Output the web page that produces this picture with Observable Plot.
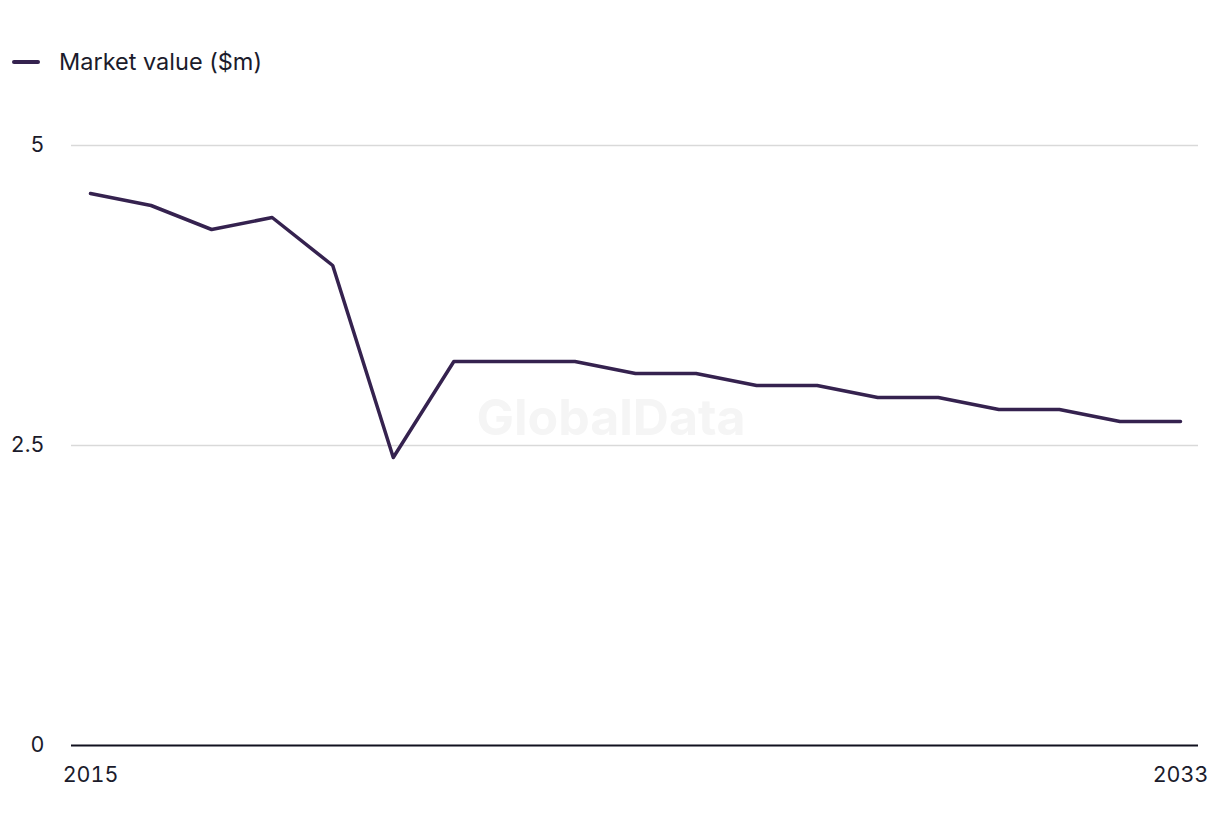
<!DOCTYPE html>
<html>
<head>
<meta charset="utf-8">
<script src="https://cdn.jsdelivr.net/npm/d3@7"></script>
<script src="https://cdn.jsdelivr.net/npm/@observablehq/plot@0.6"></script>
<style>
  html, body { margin: 0; padding: 0; background: #fff; }
  body { width: 1220px; height: 836px; position: relative; overflow: hidden; font-family: Inter, "Noto Sans", sans-serif; }
  #legend { position: absolute; left: 12px; top: 47px; display: flex; align-items: center; font-size: 23.5px; color: #1b1b2b; }
  #legend .swatch { width: 28px; height: 4px; border-radius: 2px; background: #35224f; margin-right: 19px; }
  #chart { position: absolute; left: 0; top: 0; }
</style>
</head>
<body>
<div id="legend"><span class="swatch"></span><span>Market value ($m)</span></div>
<div id="chart"></div>
<script>
const years = [2015,2016,2017,2018,2019,2020,2021,2022,2023,2024,2025,2026,2027,2028,2029,2030,2031,2032,2033];
const marketValue = [4.6,4.5,4.3,4.4,4.0,2.4,3.2,3.2,3.2,3.1,3.1,3.0,3.0,2.9,2.9,2.8,2.8,2.7,2.7];
const yTicks = [0, 2.5, 5];
const xTicks = [2015, 2033];
const seriesName = "Market value ($m)";

const data = years.map((y, i) => ({year: y, value: marketValue[i]}));

const chart = Plot.plot({
  width: 1220,
  height: 836,
  marginTop: 145,
  marginBottom: 91,
  marginLeft: 71,
  marginRight: 22,
  style: {fontFamily: "Inter, 'Noto Sans', sans-serif", fontSize: "21.5px", color: "#1b1b2b", background: "transparent"},
  x: {domain: [2015, 2033], insetLeft: 19, insetRight: 18, label: null},
  y: {domain: [0, 5], label: null},
  marks: [
    Plot.ruleY(yTicks.filter(d => d !== 0), {stroke: "#d9d9d9", strokeWidth: 1.5}),
    Plot.text(["GlobalData"], {frameAnchor: "middle", dx: -24, dy: -27, fontSize: 50, fontWeight: "bold", fill: "#f5f5f5"}),
    Plot.axisY({ticks: yTicks, tickSize: 0, tickPadding: 27, tickFormat: d => String(d), fontSize: 21.5, fill: "#1b1b2b"}),
    Plot.axisX({ticks: xTicks, tickSize: 0, tickPadding: 21, tickFormat: d => String(d), fontSize: 21.5, fill: "#1b1b2b"}),
    Plot.ruleY([0], {stroke: "#11111f", strokeWidth: 2}),
    Plot.line(data, {x: "year", y: "value", stroke: "#35224f", strokeWidth: 3.5, title: () => seriesName})
  ]
});
document.getElementById("chart").appendChild(chart);
</script>
</body>
</html>
